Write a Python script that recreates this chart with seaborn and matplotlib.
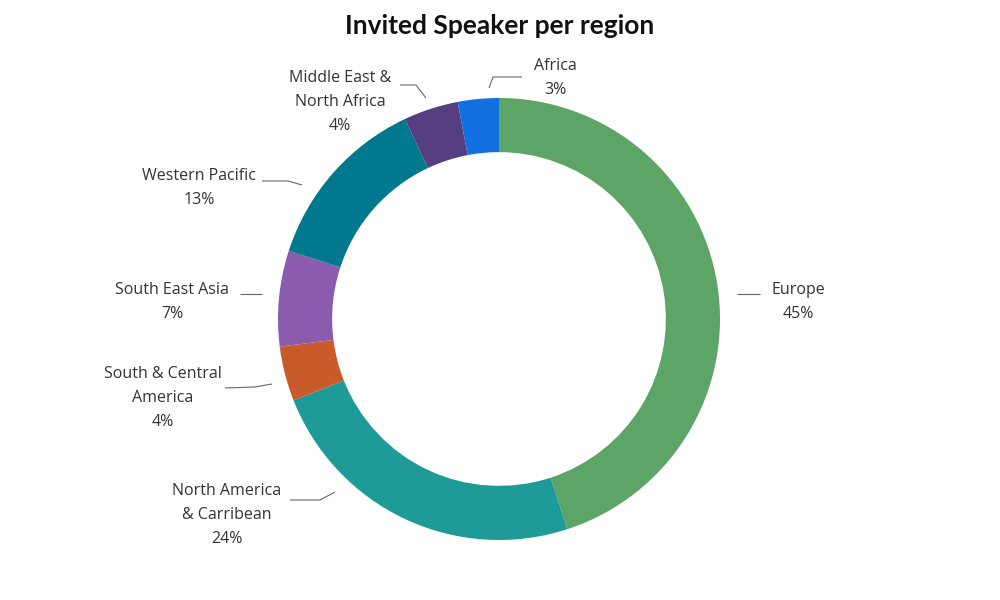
import numpy as np
import matplotlib
matplotlib.use("Agg")
import matplotlib.pyplot as plt
import seaborn as sns

# ---- data ----
regions = ["Europe", "North America\n& Carribean", "South & Central\nAmerica",
           "South East Asia", "Western Pacific", "Middle East &\nNorth Africa", "Africa"]
shares = [45, 24, 4, 7, 13, 4, 3]
colors = ["#5CA566", "#1E9A98", "#C85A2C", "#8B5BAE", "#00798E", "#553E80", "#1270E0"]

sns.set_theme(style="white")
plt.rcParams['font.family'] = ['Open Sans', 'DejaVu Sans']

W, H = 1000, 600
cx, cy, R = 499, 319, 221
fig = plt.figure(figsize=(10, 6), dpi=100)
ax = fig.add_axes([0, 0, 1, 1])

wedges, _ = ax.pie(shares, colors=colors, startangle=90, counterclock=False,
                   radius=1.0, wedgeprops=dict(width=0.245, edgecolor="none"))
ax.set_aspect("auto")
ax.set_xlim(-cx / R, (W - cx) / R)
ax.set_ylim(-(H - cy) / R, cy / R)
ax.axis("off")

def px(x, y):
    return ((x - cx) / R, (cy - y) / R)

# label layout (pixel positions of text block centres, connector text-end, elbow, ring-end)
label_pos = [(798, 302), (227, 515), (163, 398), (172, 302), (199, 188), (340, 102), (555, 78)]
conn_text = [(760, 294), (290, 500), (225, 388), (240, 294), (262, 181), (400, 85), (522, 77)]
conn_elbow = [(737, 294), (320, 500), (255, 387), (262, 294), (288, 181), (416, 85), (493, 77)]
conn_ring = [(737, 294), (335, 492), (272, 384), (262, 294), (302, 185), (426, 98), (489, 88)]

for lab, pct, tp, c1, c2, c3 in zip(regions, shares, label_pos, conn_text, conn_elbow, conn_ring):
    ax.text(*px(*tp), f"{lab}\n{pct}%", ha="center", va="center",
            fontsize=11.5, color="#333333", linespacing=1.68)
    pts = [px(*c1), px(*c2), px(*c3)]
    ax.plot([p[0] for p in pts], [p[1] for p in pts], color="#666666", lw=0.8,
            solid_capstyle="butt")

fig.text(0.5, 1 - 26 / H, "Invited Speaker per region", ha="center", va="center",
         fontsize=19, fontweight="bold", color="#111111", family=["Lato", "DejaVu Sans"])

fig.savefig("out.png", dpi=100, facecolor="white")
